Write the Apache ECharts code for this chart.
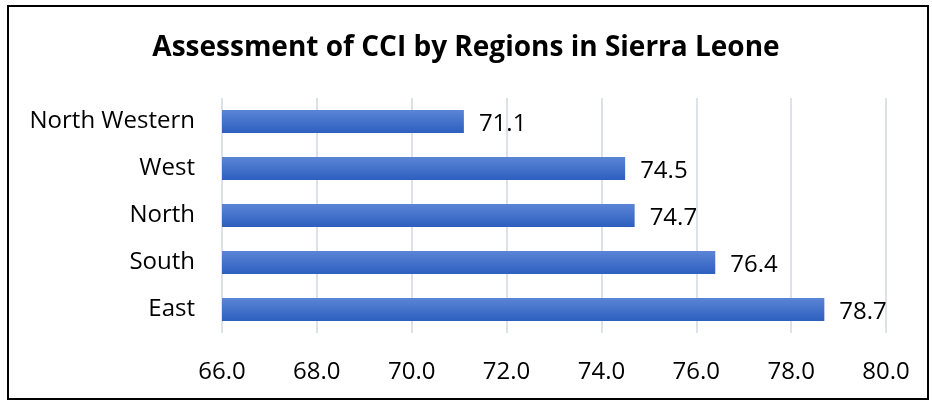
<!DOCTYPE html>
<html>
<head>
<meta charset="utf-8">
<script src="https://cdn.jsdelivr.net/npm/echarts@6/dist/echarts.min.js"></script>
<style>
  html, body { margin: 0; padding: 0; background: #fff; }
  #frame { position: absolute; left: 7px; top: 5px; width: 922px; height: 395px; border: 2px solid #000; box-sizing: border-box; }
  #chart { position: absolute; left: 0; top: 0; width: 932px; height: 404px; }
</style>
</head>
<body>
<div id="frame"></div>
<div id="chart"></div>
<script>
var regions = ['East', 'South', 'North', 'West', 'North Western'];
var cciValues = [78.7, 76.4, 74.7, 74.5, 71.1];
var xTicks = [66, 68, 70, 72, 74, 76, 78, 80];

var fontFam = 'Open Sans, Liberation Sans, sans-serif';

var myChart = echarts.init(document.getElementById('chart'));
var option = {
    animation: false,
    // 标题
    title: {
        text: 'Assessment of CCI by Regions in Sierra Leone',
        left: 'center',
        top: 29,
        textStyle: {
            fontFamily: fontFam,
            fontWeight: 'bold',
            fontSize: 28,
            color: '#000'
        }
    },
    grid: {
        left: 222,
        right: 46,
        top: 98,
        bottom: 71
    },
    xAxis: {
        type: 'value',
        min: xTicks[0],
        max: xTicks[xTicks.length - 1],
        interval: 2,
        axisLine: { show: false },
        axisTick: { show: false },
        axisLabel: {
            margin: 27,
            fontFamily: fontFam,
            fontSize: 24,
            color: '#000',
            formatter: function (v) { return v.toFixed(1); }
        },
        splitLine: { lineStyle: { color: '#dde1e8', width: 2 } }
    },
    yAxis: {
        type: 'category',
        data: regions,
        axisLine: { show: false },
        axisTick: { show: false },
        axisLabel: {
            margin: 27,
            padding: [3, 0, 0, 0],
            fontFamily: fontFam,
            fontSize: 24,
            color: '#000'
        }
    },
    series: [{
        type: 'bar',
        data: cciValues,
        barWidth: 23,
        itemStyle: {
            color: new echarts.graphic.LinearGradient(0, 0, 0, 1, [
                { offset: 0, color: '#5b85d6' },
                { offset: 1, color: '#2d5fbf' }
            ])
        },
        label: {
            show: true,
            position: 'right',
            distance: 15,
            offset: [0, 3],
            fontFamily: fontFam,
            fontSize: 24,
            color: '#000',
            formatter: function (p) { return p.value.toFixed(1); }
        }
    }]
};
myChart.setOption(option);
</script>
</body>
</html>
